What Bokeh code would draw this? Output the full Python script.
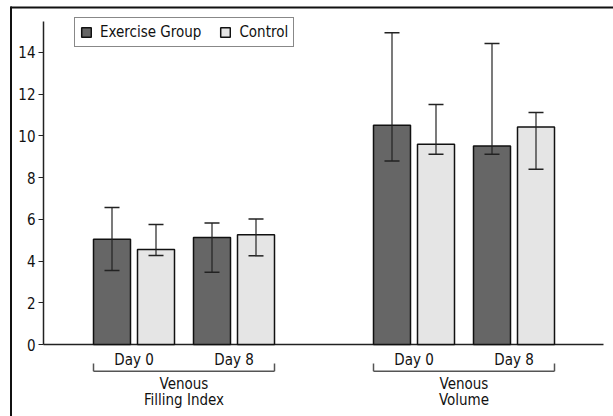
from bokeh.plotting import figure
from bokeh.models import (ColumnDataSource, Range1d, LinearAxis, FixedTicker,
                          Whisker, TeeHead, Legend, LegendItem)
from bokeh.core.properties import value
from bokeh.embed import file_html
from bokeh.resources import INLINE

# ---- data ----
groups = ["Venous\nFilling Index", "Venous\nVolume"]
days = ["Day 0", "Day 8"]
series = ["Exercise Group", "Control"]
exercise_mean = [5.05, 5.13, 10.51, 9.51]
exercise_lower = [3.55, 3.47, 8.80, 9.12]
exercise_upper = [6.57, 5.83, 14.94, 14.43]
control_mean = [4.55, 5.26, 9.60, 10.43]
control_lower = [4.27, 4.25, 9.12, 8.40]
control_upper = [5.75, 6.02, 11.50, 11.12]
y_ticks = [0, 2, 4, 6, 8, 10, 12, 14]

FONT = "DejaVu Sans Condensed"
FS = "15px"

# ---- layout constants (px-like data units on x) ----
first_left = 50
bar_w = 37
pair_off = 44
day_step = 100
group_step = 280

def centers(series_idx):
    out = []
    for g in range(len(groups)):
        for d in range(len(days)):
            out.append(first_left + bar_w / 2 + g * group_step + d * day_step + series_idx * pair_off)
    return out

p = figure(width=613, height=416, output_backend="svg", toolbar_location=None,
           x_range=Range1d(-43, 570), y_range=Range1d(-3.45, 16.49),
           x_axis_type=None, y_axis_type=None, min_border=0)
p.outline_line_color = None
p.xgrid.visible = False
p.ygrid.visible = False

yaxis = LinearAxis(fixed_location=0, bounds=(0, 15.5), ticker=FixedTicker(ticks=y_ticks))
yaxis.major_tick_out = 5
yaxis.major_tick_in = 0
yaxis.minor_tick_line_color = None
yaxis.axis_line_width = 1.5
yaxis.axis_line_color = "#222222"
yaxis.major_tick_line_color = "#222222"
yaxis.major_label_standoff = 3
yaxis.major_label_text_font = FONT
yaxis.major_label_text_font_size = FS
yaxis.major_label_text_color = "#111111"
p.add_layout(yaxis, "left")

# outer frame lines
p.segment(x0=[-33, -32.5], y0=[16.16, -3.45], x1=[570, -32.5], y1=[16.16, 16.2],
          line_color="#111111", line_width=2)

# x axis line
p.segment(x0=[0], y0=[0], x1=[560], y1=[0], line_color="#222222", line_width=1.5)

colors = ["#666666", "#e5e5e5"]
means = [exercise_mean, control_mean]
lowers = [exercise_lower, control_lower]
uppers = [exercise_upper, control_upper]
renderers = []
for s in range(2):
    src = ColumnDataSource(dict(x=centers(s), top=means[s], lower=lowers[s], upper=uppers[s]))
    r = p.vbar(x="x", top="top", bottom=0, width=bar_w, source=src,
               fill_color=colors[s], line_color="#111111", line_width=1.5)
    renderers.append(r)
    w = Whisker(base="x", upper="upper", lower="lower", source=src, dimension="height",
                line_color="#222222", line_width=1.2, level="overlay",
                upper_head=TeeHead(size=15, line_color="#222222", line_width=1.5),
                lower_head=TeeHead(size=15, line_color="#222222", line_width=1.5))
    p.add_layout(w)

# day labels
dx, dy, dt = [], [], []
for g in range(len(groups)):
    for d in range(len(days)):
        dx.append(first_left + g * group_step + d * day_step + (pair_off + bar_w) / 2)
        dy.append(-0.75)
        dt.append(days[d])
p.text(x=dx, y=dy, text=dt, text_align="center", text_baseline="middle",
       text_font=value(FONT), text_font_size=FS, text_color="#111111")

# brackets
bx0, by0, bx1, by1 = [], [], [], []
for g in range(len(groups)):
    left = first_left + g * group_step
    right = left + (len(days) - 1) * day_step + pair_off + bar_w
    bx0 += [left, left, right]
    by0 += [-1.28, -1.28, -1.28]
    bx1 += [right, left, right]
    by1 += [-1.28, -0.91, -0.91]
p.segment(x0=bx0, y0=by0, x1=bx1, y1=by1, line_color="#555555", line_width=1.5)

# group labels
gx, gy, gt = [], [], []
for g, name in enumerate(groups):
    cx = first_left + g * group_step + ((len(days) - 1) * day_step + pair_off + bar_w) / 2
    for k, line in enumerate(name.split("\n")):
        gx.append(cx)
        gy.append(-1.87 - 0.81 * k)
        gt.append(line)
p.text(x=gx, y=gy, text=gt, text_align="center", text_baseline="middle",
       text_font=value(FONT), text_font_size=FS, text_color="#111111")

legend = Legend(items=[LegendItem(label=series[i], renderers=[renderers[i]]) for i in range(2)],
                location=(74, 369), orientation="horizontal")
legend.padding = 5
legend.margin = 0
legend.spacing = 18
legend.label_standoff = 8
legend.glyph_width = 12
legend.glyph_height = 12
legend.label_height = 18
legend.label_text_font = FONT
legend.label_text_font_size = FS
legend.label_text_color = "#111111"
legend.border_line_color = "#111111"
legend.border_line_width = 1
legend.background_fill_color = "white"
legend.background_fill_alpha = 1
p.add_layout(legend, "center")

open("out.html", "w").write(file_html(p, INLINE))
